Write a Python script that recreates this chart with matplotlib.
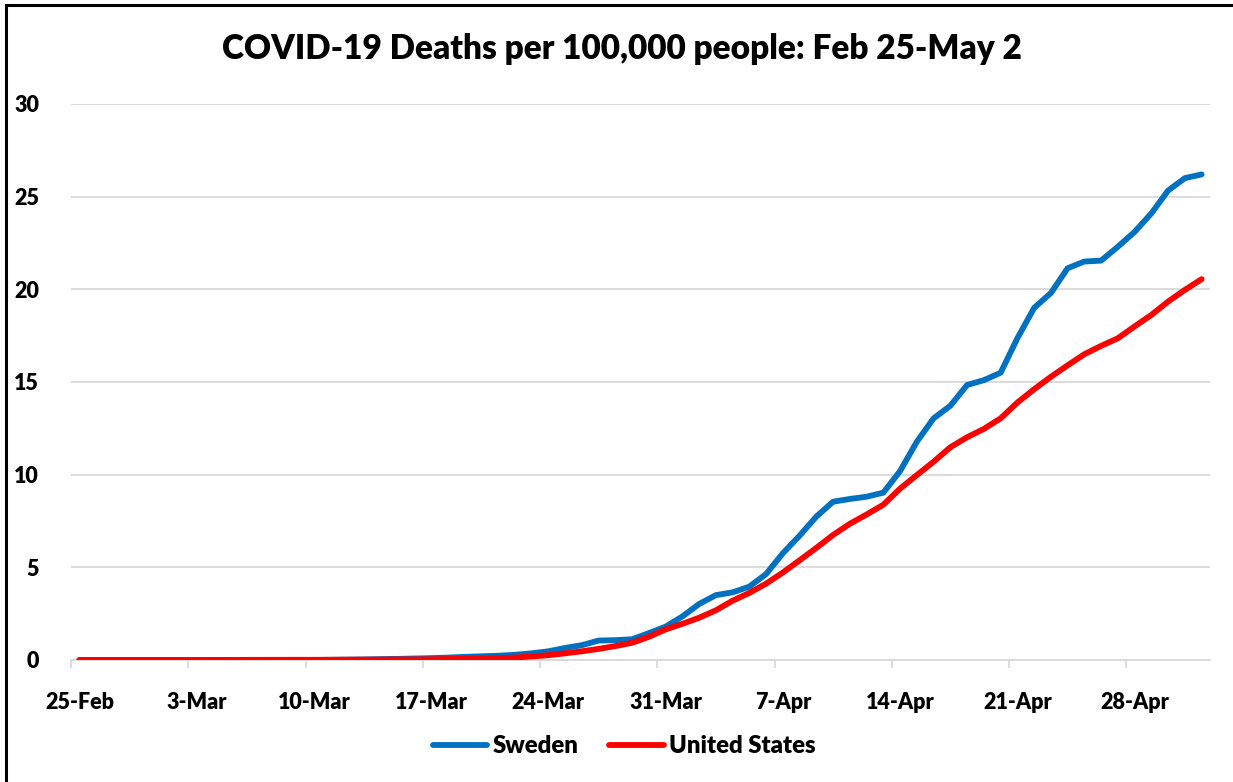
import matplotlib
matplotlib.use("Agg")
import matplotlib.pyplot as plt
from matplotlib.patches import Rectangle

# deaths per 100,000 people, one value per day from 25-Feb to 2-May
sweden = [0, 0, 0, 0, 0, 0, 0, 0, 0, 0, 0, 0, 0, 0, 0,
          0.01, 0.02, 0.03, 0.05, 0.06, 0.08, 0.10, 0.13, 0.17, 0.20,
          0.23, 0.28, 0.36, 0.47, 0.65, 0.80, 1.05, 1.07, 1.12, 1.45,
          1.80, 2.35, 3.02, 3.50, 3.65, 3.96, 4.64, 5.76, 6.71, 7.74,
          8.54, 8.69, 8.81, 9.03, 10.20, 11.78, 13.04, 13.72, 14.84, 15.10,
          15.50, 17.36, 19.00, 19.80, 21.14, 21.50, 21.55, 22.30, 23.10, 24.10,
          25.33, 26.00, 26.20]
united_states = [0, 0, 0, 0, 0, 0, 0, 0, 0.003, 0.005, 0.007, 0.008, 0.009, 0.01, 0.01,
                 0.012, 0.015, 0.018, 0.02, 0.03, 0.03, 0.04, 0.05, 0.06, 0.08,
                 0.10, 0.13, 0.19, 0.26, 0.36, 0.47, 0.60, 0.75, 0.93, 1.25,
                 1.65, 1.95, 2.28, 2.68, 3.20, 3.62, 4.12, 4.72, 5.38, 6.05,
                 6.75, 7.35, 7.85, 8.38, 9.25, 9.98, 10.70, 11.48, 12.02, 12.47,
                 13.04, 13.89, 14.61, 15.28, 15.90, 16.50, 16.95, 17.36, 18.00, 18.62,
                 19.34, 19.97, 20.55]
tick_labels = ["25-Feb", "3-Mar", "10-Mar", "17-Mar", "24-Mar", "31-Mar",
               "7-Apr", "14-Apr", "21-Apr", "28-Apr"]

plt.rcParams['font.family'] = ['Lato', 'DejaVu Sans']
plt.rcParams['font.weight'] = 'heavy'

fig = plt.figure(figsize=(12.33, 7.82), dpi=100)
ax = fig.add_axes([71/1233, 1 - 660/782, (1210 - 71)/1233, (660 - 104)/782])

days = list(range(len(sweden)))
grid_c = '#D9D9D9'

ax.plot(days, sweden, color='#0070C0', lw=4.2, solid_capstyle='round',
        solid_joinstyle='round', label='Sweden', zorder=3)
ax.plot(days, united_states, color='#FF0000', lw=4.2, solid_capstyle='round',
        solid_joinstyle='round', label='United States', zorder=4)

ax.set_xlim(-0.5, len(days) - 0.5)
ax.set_ylim(0, 30)
ax.set_yticks(range(0, 31, 5))

# labels sit on the category, tick marks on the category boundaries
ax.set_xticks(days[::7])
ax.set_xticklabels(tick_labels)
ax.set_xticks([d - 0.5 for d in days[::7]], minor=True)
ax.tick_params(axis='x', which='major', length=0, pad=23, labelsize=15.5)
ax.tick_params(axis='x', which='minor', length=6, width=1.3, color=grid_c)
ax.tick_params(axis='y', length=0, pad=23, labelsize=15.5)

for s in ['top', 'right', 'left']:
    ax.spines[s].set_visible(False)
ax.spines['bottom'].set_color(grid_c)
ax.spines['bottom'].set_linewidth(1.3)
ax.grid(axis='y', color=grid_c, lw=1.3)
ax.set_axisbelow(True)

fig.text(622/1233, 1 - 49/782, "COVID-19 Deaths per 100,000 people: Feb 25-May 2",
         ha='center', va='center', fontsize=24, fontweight='heavy')

fig.legend(loc='center', bbox_to_anchor=(624/1233, 1 - 746/782), ncol=2,
           frameon=False, fontsize=17.2, handlelength=2.3, handletextpad=0.2,
           columnspacing=1.3)

# chart frame, cut off at right and bottom like the screenshot
fig.patches.append(Rectangle((6/1233, -0.5), 2, 0.5 + 1 - 5/782, transform=fig.transFigure,
                             fill=False, edgecolor='black', lw=2.2))

fig.savefig('out.png', dpi=100)
